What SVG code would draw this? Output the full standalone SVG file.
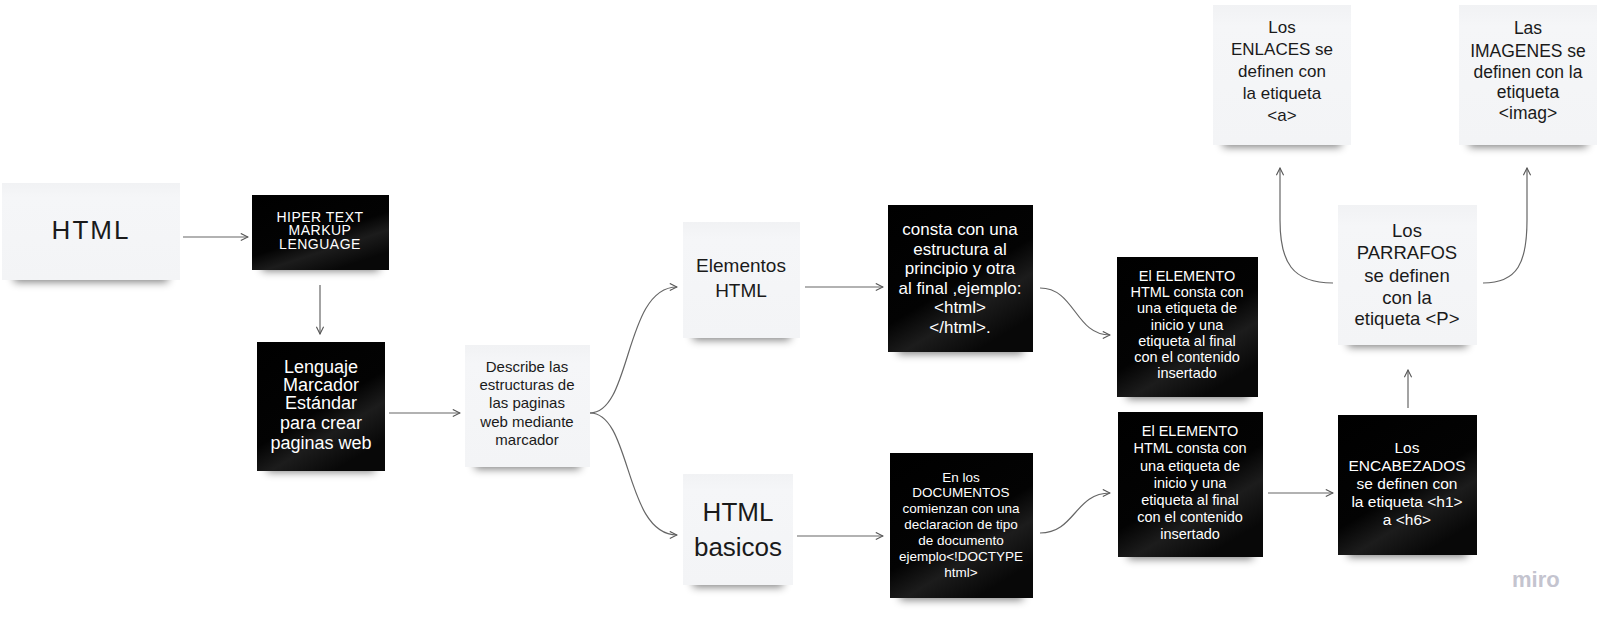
<svg xmlns="http://www.w3.org/2000/svg" width="1599" height="625" viewBox="0 0 1599 625">
<defs>
<linearGradient id="gBlack" x1="0" y1="0" x2="0.6" y2="1">
<stop offset="0" stop-color="#000"/>
<stop offset="0.6" stop-color="#030303"/>
<stop offset="0.78" stop-color="#1c1c1c"/>
<stop offset="1" stop-color="#080808"/>
</linearGradient>
<linearGradient id="gWhite" x1="0" y1="0" x2="0" y2="1">
<stop offset="0" stop-color="#f1f2f4"/>
<stop offset="0.15" stop-color="#f5f6f8"/>
<stop offset="1" stop-color="#f3f4f6"/>
</linearGradient>
<filter id="blur" x="-20%" y="-100%" width="140%" height="300%">
<feGaussianBlur stdDeviation="4"/>
</filter>
<marker id="arr" viewBox="0 0 10 10" refX="9" refY="5" markerWidth="9" markerHeight="9" markerUnits="userSpaceOnUse" orient="auto">
<path d="M1,1 L9,5 L1,9" fill="none" stroke="#555" stroke-width="1.2"/>
</marker>
</defs>
<style>
.w{fill:url(#gWhite)}
.b{fill:url(#gBlack)}
.sh{fill:#000;opacity:.5;filter:url(#blur)}
.c{fill:none;stroke:#666;stroke-width:1.2;marker-end:url(#arr)}
text{font-family:"Liberation Sans",Arial,sans-serif;text-anchor:middle}
.tw{fill:#1a1a1a}
.tb{fill:#fff}
</style>
<rect width="1599" height="625" fill="#fff"/>

<g id="connectors">
<path class="c" d="M183,237 L248,237"/>
<path class="c" d="M320,285 L320,334"/>
<path class="c" d="M389,413 L460,413"/>
<path class="c" d="M590,413 C632,413 624,287 677,287"/>
<path class="c" d="M590,413 C632,413 624,535 677,535"/>
<path class="c" d="M805,287 L883,287"/>
<path class="c" d="M797,536 L883,536"/>
<path class="c" d="M1040,288 C1075,288 1075,335 1110,335"/>
<path class="c" d="M1040,533 C1075,533 1075,493 1110,493"/>
<path class="c" d="M1268,493 L1333,493"/>
<path class="c" d="M1408,408 L1408,370"/>
<path class="c" d="M1333,283 C1292,283 1280,262 1280,220 L1280,168"/>
<path class="c" d="M1483,283 C1518,283 1527,262 1527,220 L1527,168"/>
</g>

<g id="n-html">
<rect class="sh" x="14" y="268" width="154" height="14"/>
<rect class="w" x="2" y="183" width="178" height="97"/>
<text class="tw" x="91" y="239" font-size="26" letter-spacing="2">HTML</text>
</g>

<g id="n-hiper">
<rect class="sh" x="262" y="259" width="117" height="12"/>
<rect class="b" x="252" y="195" width="137" height="75"/>
<text class="tb" font-size="14" letter-spacing="0.5"><tspan x="320" y="222">HIPER TEXT</tspan><tspan x="320" y="235">MARKUP</tspan><tspan x="320" y="249">LENGUAGE</tspan></text>
</g>

<g id="n-lenguaje">
<rect class="sh" x="267" y="458" width="108" height="14"/>
<rect class="b" x="257" y="342" width="128" height="129"/>
<text class="tb" font-size="18"><tspan x="321" y="373">Lenguaje</tspan><tspan x="321" y="391">Marcador</tspan><tspan x="321" y="409">Estándar</tspan><tspan x="321" y="429">para crear</tspan><tspan x="321" y="449">paginas web</tspan></text>
</g>

<g id="n-describe">
<rect class="sh" x="475" y="455" width="105" height="14"/>
<rect class="w" x="465" y="345" width="125" height="122"/>
<text class="tw" font-size="15"><tspan x="527" y="372">Describe las</tspan><tspan x="527" y="390">estructuras de</tspan><tspan x="527" y="408">las paginas</tspan><tspan x="527" y="427">web mediante</tspan><tspan x="527" y="445">marcador</tspan></text>
</g>

<g id="n-elementos">
<rect class="sh" x="693" y="326" width="97" height="14"/>
<rect class="w" x="683" y="222" width="117" height="116"/>
<text class="tw" font-size="19"><tspan x="741" y="272">Elementos</tspan><tspan x="741" y="297">HTML</tspan></text>
</g>

<g id="n-basicos">
<rect class="sh" x="693" y="573" width="90" height="14"/>
<rect class="w" x="683" y="474" width="110" height="111"/>
<text class="tw" font-size="26"><tspan x="738" y="521">HTML</tspan><tspan x="738" y="556">basicos</tspan></text>
</g>

<g id="n-consta">
<rect class="sh" x="898" y="340" width="125" height="14"/>
<rect class="b" x="888" y="205" width="145" height="147"/>
<text class="tb" font-size="17"><tspan x="960" y="235">consta con una</tspan><tspan x="960" y="254.5">estructura al</tspan><tspan x="960" y="274">principio y otra</tspan><tspan x="960" y="293.5">al final ,ejemplo:</tspan><tspan x="960" y="313">&lt;html&gt;</tspan><tspan x="960" y="332.5">&lt;/html&gt;.</tspan></text>
</g>

<g id="n-elemento1">
<rect class="sh" x="1127" y="385" width="121" height="14"/>
<rect class="b" x="1117" y="257" width="141" height="140"/>
<text class="tb" font-size="14.5"><tspan x="1187" y="281">El ELEMENTO</tspan><tspan x="1187" y="297">HTML consta con</tspan><tspan x="1187" y="313">una etiqueta de</tspan><tspan x="1187" y="329.5">inicio y una</tspan><tspan x="1187" y="346">etiqueta al final</tspan><tspan x="1187" y="362">con el contenido</tspan><tspan x="1187" y="378">insertado</tspan></text>
</g>

<g id="n-documentos">
<rect class="sh" x="900" y="586" width="123" height="14"/>
<rect class="b" x="890" y="453" width="143" height="145"/>
<text class="tb" font-size="13.5"><tspan x="961" y="481.5">En los</tspan><tspan x="961" y="497">DOCUMENTOS</tspan><tspan x="961" y="513">comienzan con una</tspan><tspan x="961" y="529">declaracion de tipo</tspan><tspan x="961" y="545">de documento</tspan><tspan x="961" y="561">ejemplo&lt;!DOCTYPE</tspan><tspan x="961" y="577">html&gt;</tspan></text>
</g>

<g id="n-elemento2">
<rect class="sh" x="1128" y="545" width="125" height="14"/>
<rect class="b" x="1118" y="412" width="145" height="145"/>
<text class="tb" font-size="14.5"><tspan x="1190" y="436">El ELEMENTO</tspan><tspan x="1190" y="453">HTML consta con</tspan><tspan x="1190" y="470.5">una etiqueta de</tspan><tspan x="1190" y="487.5">inicio y una</tspan><tspan x="1190" y="505">etiqueta al final</tspan><tspan x="1190" y="522">con el contenido</tspan><tspan x="1190" y="539">insertado</tspan></text>
</g>

<g id="n-encabezados">
<rect class="sh" x="1348" y="543" width="119" height="14"/>
<rect class="b" x="1338" y="415" width="139" height="140"/>
<text class="tb" font-size="15.5"><tspan x="1407" y="452.5">Los</tspan><tspan x="1407" y="470.5">ENCABEZADOS</tspan><tspan x="1407" y="489">se definen con</tspan><tspan x="1407" y="507">la etiqueta &lt;h1&gt;</tspan><tspan x="1407" y="525">a &lt;h6&gt;</tspan></text>
</g>

<g id="n-parrafos">
<rect class="sh" x="1348" y="333" width="119" height="14"/>
<rect class="w" x="1338" y="205" width="139" height="140"/>
<text class="tw" font-size="18.5"><tspan x="1407" y="236.5">Los</tspan><tspan x="1407" y="258.5">PARRAFOS</tspan><tspan x="1407" y="281.5">se definen</tspan><tspan x="1407" y="303.5">con la</tspan><tspan x="1407" y="324.5">etiqueta &lt;P&gt;</tspan></text>
</g>

<g id="n-enlaces">
<rect class="sh" x="1223" y="133" width="118" height="14"/>
<rect class="w" x="1213" y="5" width="138" height="140"/>
<text class="tw" font-size="17"><tspan x="1282" y="33">Los</tspan><tspan x="1282" y="55">ENLACES se</tspan><tspan x="1282" y="77">definen con</tspan><tspan x="1282" y="99">la etiqueta</tspan><tspan x="1282" y="121">&lt;a&gt;</tspan></text>
</g>

<g id="n-imagenes">
<rect class="sh" x="1469" y="133" width="118" height="14"/>
<rect class="w" x="1459" y="5" width="138" height="140"/>
<text class="tw" font-size="17.5"><tspan x="1528" y="34">Las</tspan><tspan x="1528" y="57">IMAGENES se</tspan><tspan x="1528" y="78">definen con la</tspan><tspan x="1528" y="98">etiqueta</tspan><tspan x="1528" y="119">&lt;imag&gt;</tspan></text>
</g>

<text x="1512" y="587" font-size="22" font-weight="bold" fill="#c4c4cf" style="text-anchor:start">miro</text>
</svg>
